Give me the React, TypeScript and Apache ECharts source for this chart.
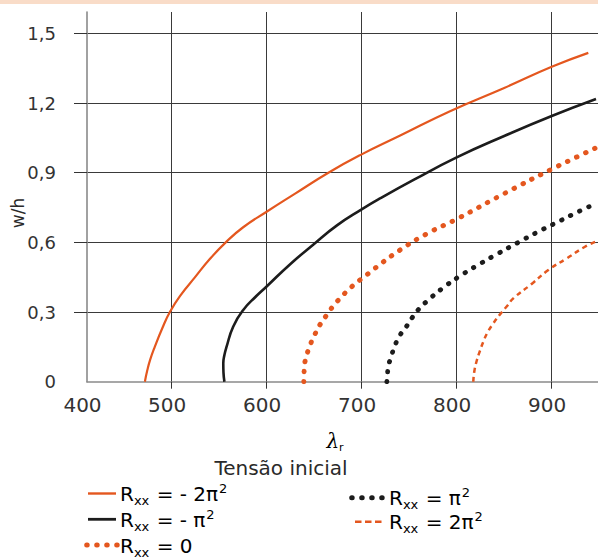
import React, { useEffect, useRef } from "react";
import * as echarts from "echarts";

// ---- axis ticks / labels ----
const X_AXIS_START = 411; // position of the left axis line (labelled "400" in the source)
const X_AXIS_END = 948.7;
const Y_AXIS_END = 1.592;
const xTickValues = [X_AXIS_START, 500, 600, 700, 800, 900];
const xTickLabels = ["400", "500", "600", "700", "800", "900"];
const yTickValues = [0, 0.3, 0.6, 0.9, 1.2, 1.5];
const yTickLabels = ["0", "0,3", "0,6", "0,9", "1,2", "1,5"];

// ---- series (lambda_r, w/h) ----
const seriesNames = ["Rxx = -2π²", "Rxx = -π²", "Rxx = 0", "Rxx = π²", "Rxx = 2π²"];
const legendRhs = ["- 2π", "- π", "0", "π", "2π"];
const legendSup = ["2", "2", "", "2", "2"];

const lamNeg2Pi2 = [471.9, 474.5, 477.5, 482.4, 490, 498.2, 510, 524.5, 540, 557, 575, 600, 630, 665, 700, 740, 793, 850, 900, 938.5];
const whNeg2Pi2 = [0, 0.05, 0.095, 0.151, 0.228, 0.3, 0.375, 0.449, 0.527, 0.6, 0.664, 0.732, 0.81, 0.9, 0.979, 1.059, 1.165, 1.265, 1.356, 1.416];

const lamNegPi2 = [555.6, 554.6, 554.4, 555.6, 557.9, 564.8, 575.4, 589.5, 600, 624.5, 649, 673.7, 700, 719.3, 755.6, 800, 850, 900, 946.6];
const whNegPi2 = [0, 0.04, 0.079, 0.115, 0.151, 0.237, 0.309, 0.37, 0.41, 0.505, 0.59, 0.672, 0.742, 0.789, 0.871, 0.966, 1.058, 1.144, 1.217];

const lamZero = [639.2, 639.7, 642.1, 645.9, 650.8, 656.4, 663.2, 670.1, 678.2, 686.6, 695.4, 703.5, 711.6, 740.3, 770, 800, 850, 900, 946.6];
const whZero = [0, 0.064, 0.112, 0.159, 0.204, 0.247, 0.287, 0.326, 0.363, 0.398, 0.429, 0.454, 0.481, 0.567, 0.64, 0.7, 0.81, 0.915, 1.007];

const lamPi2 = [726.5, 727, 728, 731, 735, 740, 747, 753, 760, 768, 784, 803, 823, 844, 864, 885, 906, 928, 947];
const whPi2 = [0, 0.017, 0.064, 0.107, 0.155, 0.198, 0.237, 0.275, 0.312, 0.344, 0.399, 0.454, 0.504, 0.553, 0.598, 0.644, 0.687, 0.732, 0.768];

const lam2Pi2 = [817.5, 818.5, 821, 824.5, 828, 832.6, 838.5, 845.6, 853.3, 859.6, 878.9, 896.4, 915.8, 935, 948.7];
const wh2Pi2 = [0, 0.043, 0.089, 0.133, 0.172, 0.213, 0.251, 0.29, 0.327, 0.359, 0.421, 0.481, 0.531, 0.581, 0.607];

const ORANGE = "#e4571f";
const BLACK = "#1c1c1c";
const FONT = "DejaVu Sans";

const seriesStyles = [
  { color: ORANGE, width: 2.2, type: "solid" as any, cap: "butt" },
  { color: BLACK, width: 2.6, type: "solid" as any, cap: "butt" },
  { color: ORANGE, width: 5, type: [0.5, 9.5] as any, cap: "round" },
  { color: BLACK, width: 4.8, type: [0.5, 9.5] as any, cap: "round" },
  { color: ORANGE, width: 2.5, type: [5, 4] as any, cap: "butt" },
];

const seriesData = [
  [lamNeg2Pi2, whNeg2Pi2],
  [lamNegPi2, whNegPi2],
  [lamZero, whZero],
  [lamPi2, whPi2],
  [lam2Pi2, wh2Pi2],
];

// legend layout (position of each entry)
const legendPos = [
  { sx1: 88, sx2: 116, y: 493.5, tx: 120 },
  { sx1: 88, sx2: 116, y: 519.3, tx: 120 },
  { sx1: 86.7, sx2: 118, y: 545, tx: 120 },
  { sx1: 351.7, sx2: 383, y: 497.7, tx: 389 },
  { sx1: 355, sx2: 382, y: 521.7, tx: 389 },
];
const legendDash: (number[] | null)[] = [null, null, [0.5, 9.5], [0.5, 9.5], [6.5, 3.5]];

function labelFor(values: number[], labels: string[], v: number) {
  for (let i = 0; i < values.length; i++) if (Math.abs(values[i] - v) < 1e-6) return labels[i];
  return "";
}

export default function App() {
  const ref = useRef<HTMLDivElement>(null);
  useEffect(() => {
    if (!ref.current) return;
    const chart = echarts.init(ref.current, null, { renderer: "svg" });

    const richBase = {
      r: { fontSize: 20, lineHeight: 30, fontFamily: FONT, color: "#2a2a2a" },
      s: { fontSize: 13, fontFamily: FONT, color: "#2a2a2a", verticalAlign: "top", padding: [15, 1, 0, 0] },
      m: { fontSize: 20, lineHeight: 30, fontFamily: FONT, color: "#2a2a2a" },
      p: { fontSize: 13, fontFamily: FONT, color: "#2a2a2a", verticalAlign: "top", padding: [3, 0, 0, 1] },
    };

    const graphics: any[] = [
      { type: "rect", shape: { x: 0, y: 0, width: 598, height: 4 }, style: { fill: "#f9dcc8" }, silent: true },
      {
        type: "text", x: 18, y: 213, rotation: Math.PI / 2,
        style: { text: "w/h", fontSize: 17, fontFamily: FONT, fill: "#2a2a2a", align: "center", verticalAlign: "middle" },
      },
      {
        type: "text", x: 335, y: 441,
        style: {
          text: "{l|λ}{s|r}", align: "center", verticalAlign: "middle",
          rich: {
            l: { fontSize: 20, lineHeight: 24, fontFamily: "DejaVu Serif", fontStyle: "italic", color: "#2a2a2a" },
            s: { fontSize: 11, fontFamily: FONT, color: "#2a2a2a", verticalAlign: "top", padding: [13, 0, 0, 0] },
          },
        },
      },
      {
        type: "text", x: 281, y: 467.5,
        style: { text: "Tensão inicial", fontSize: 20, fontFamily: FONT, fill: "#2a2a2a", align: "center", verticalAlign: "middle" },
      },
    ];

    legendPos.forEach((p, i) => {
      const st = seriesStyles[i];
      graphics.push({
        type: "line",
        shape: { x1: p.sx1, y1: p.y, x2: p.sx2, y2: p.y },
        style: {
          stroke: st.color, lineWidth: i === 2 || i === 3 ? 5 : i === 1 ? 2.8 : 2.4,
          lineDash: legendDash[i] || undefined, lineCap: st.cap,
        },
        silent: true,
      });
      const sup = legendSup[i] ? `{p|${legendSup[i]}}` : "";
      graphics.push({
        type: "text", x: p.tx, y: p.y + 0.5,
        style: { text: `{r|R}{s|xx}{m| = ${legendRhs[i]}}${sup}`, align: "left", verticalAlign: "middle", rich: richBase },
      });
    });

    chart.setOption({
      animation: false,
      textStyle: { fontFamily: FONT },
      grid: { left: 87, right: 0, top: 12, bottom: 178.3, containLabel: false, outerBoundsMode: "none" } as any,
      xAxis: {
        type: "value", min: X_AXIS_START, max: X_AXIS_END, minInterval: 100, maxInterval: 100,
        axisLine: { show: true, lineStyle: { color: "#8a8a8a", width: 1.6 } },
        axisTick: { show: true, customValues: [500, 600, 700, 800, 900], length: 7, lineStyle: { color: "#333", width: 1 } },
        axisLabel: {
          customValues: xTickValues, formatter: (v: number) => labelFor(xTickValues, xTickLabels, v),
          fontSize: 20, color: "#333", margin: 13, padding: [0, 9, 0, 0], fontFamily: FONT,
        },
        splitLine: { show: true, lineStyle: { color: "#3a3a3a", width: 1 } },
      } as any,
      yAxis: {
        type: "value", min: 0, max: Y_AXIS_END, interval: 0.3,
        axisLine: { show: true, lineStyle: { color: "#8a8a8a", width: 1.6 } },
        axisTick: { show: true, customValues: [0.3, 0.6, 0.9, 1.2, 1.5], length: 13, lineStyle: { color: "#333", width: 1 } },
        axisLabel: {
          customValues: yTickValues, formatter: (v: number) => labelFor(yTickValues, yTickLabels, v),
          fontSize: 18, color: "#333", margin: 31, padding: [0, 0, 6, 0], fontFamily: FONT,
        },
        splitLine: { show: true, lineStyle: { color: "#3a3a3a", width: 1 } },
      } as any,
      series: seriesData.map((d, i) => ({
        type: "line",
        name: seriesNames[i],
        data: d[0].map((x, j) => [x, d[1][j]]),
        showSymbol: false,
        symbol: "none",
        smooth: 0.5,
        silent: true,
        lineStyle: { color: seriesStyles[i].color, width: seriesStyles[i].width, type: seriesStyles[i].type, cap: seriesStyles[i].cap },
        z: 3,
      })),
      graphic: graphics,
    });
    return () => chart.dispose();
  }, []);
  return <div ref={ref} style={{ position: "absolute", left: 0, top: 0, width: 598, height: 560 }} />;
}
